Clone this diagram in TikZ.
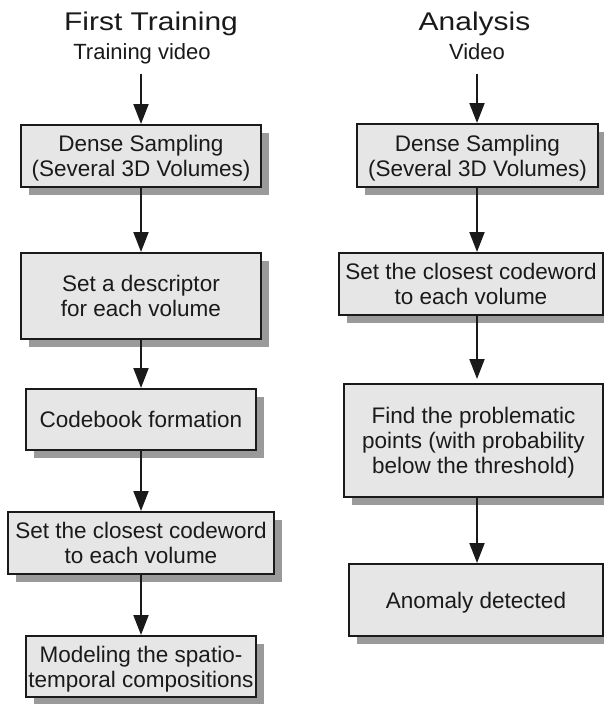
\documentclass[tikz,border=0pt]{standalone}
\usepackage{fontspec}
\usepackage{graphicx}
\setmainfont{Liberation Sans}
\usetikzlibrary{arrows.meta,shadows}
\definecolor{boxfill}{HTML}{E6E6E6}
\definecolor{shadowgray}{HTML}{9A9A9A}
\definecolor{ink}{HTML}{1A1A1A}
% last line of a box label: keep its descenders out of the vertical centring
\newcommand\lastrow[1]{\raisebox{0pt}[\height][0pt]{#1}}
% column headings are set wide
\newcommand\wideheading[1]{\scalebox{1.17}[1]{#1}}
\tikzset{
  stepbox/.style={draw=ink, line width=2pt, fill=boxfill, align=center,
    inner sep=0pt, text=ink,
    font=\fontsize{22.5}{25.3}\selectfont,
    drop shadow={shadow xshift=8pt, shadow yshift=-8pt, fill=shadowgray, opacity=1}},
  heading/.style={font=\fontsize{25.6}{30}\selectfont, text=ink, inner sep=0pt, anchor=base},
  subheading/.style={font=\fontsize{22}{25}\selectfont, text=ink, inner sep=0pt, anchor=base},
  flow/.style={draw=ink, line width=2pt, -{Triangle[width=15pt,length=20pt]}},
}
\begin{document}
\begin{tikzpicture}[x=1pt,y=-1pt]
\useasboundingbox (0,0) rectangle (604,704);
\clip (0,0) rectangle (604,704);
\fill[white] (0,0) rectangle (604,704);

% column headings
\node[heading] (t1) at (151,30) {\wideheading{First Training}};
\node[subheading] (s1) at (142,59) {Training video};
\node[heading] (t2) at (474.5,30) {\wideheading{Analysis}};
\node[subheading] (s2) at (477,59) {Video};
\coordinate (in1) at (141,74);
\coordinate (in2) at (477,74);

% training column
\node[stepbox, minimum width=240pt, minimum height=62pt] (a1) at (141,156) {Dense Sampling\\\lastrow{(Several 3D Volumes)}};
\node[stepbox, minimum width=240pt, minimum height=86pt] (a2) at (141,296) {Set a descriptor\\\lastrow{for each volume}};
\node[stepbox, minimum width=230pt, minimum height=61pt] (a3) at (141,419.5) {Codebook formation};
\node[stepbox, minimum width=266pt, minimum height=62pt] (a4) at (141,543) {Set the closest codeword\\\lastrow{to each volume}};
\node[stepbox, minimum width=230pt, minimum height=61pt] (a5) at (141,666.5) {Modeling the spatio-\\\lastrow{temporal compositions}};

% analysis column
\node[stepbox, minimum width=241pt, minimum height=63pt] (b1) at (477.5,155.5) {Dense Sampling\\\lastrow{(Several 3D Volumes)}};
\node[stepbox, minimum width=264pt, minimum height=62pt] (b2) at (471,284) {Set the closest codeword\\\lastrow{to each volume}};
\node[stepbox, minimum width=259pt, minimum height=113pt] (b3) at (473.5,440.5) {Find the problematic\\points (with probability\\\lastrow{below the threshold)}};
\node[stepbox, minimum width=254pt, minimum height=72pt] (b4) at (476,600) {\lastrow{Anomaly detected}};

% connectors
\draw[flow] (in1) -- (in1 |- a1.north);
\draw[flow] (a1) -- (a2);
\draw[flow] (a2) -- (a3);
\draw[flow] (a3) -- (a4);
\draw[flow] (a4) -- (a5);
\draw[flow] (in2) -- (in2 |- b1.north);
\draw[flow] (b1.south -| in2) -- (in2 |- b2.north);
\draw[flow, shorten >=4pt] (in2 |- b2.south) -- (in2 |- b3.north);
\draw[flow] (in2 |- b3.south) -- (in2 |- b4.north);
\end{tikzpicture}
\end{document}
